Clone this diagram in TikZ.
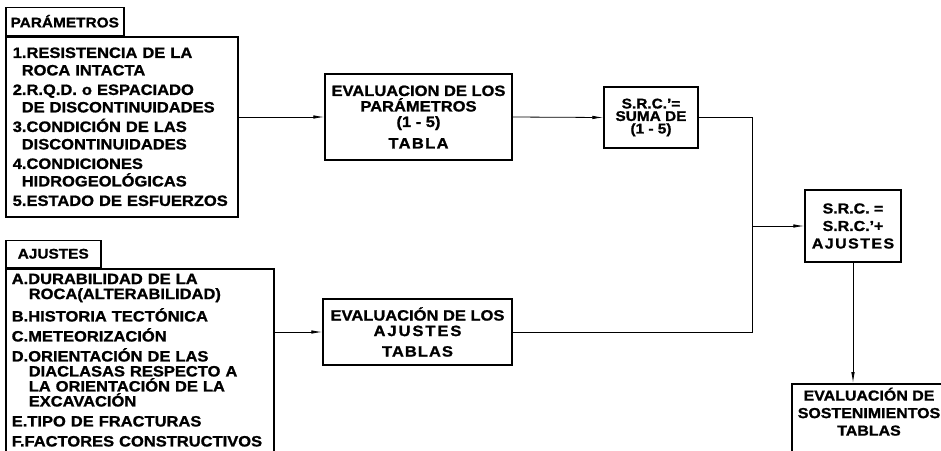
\documentclass[tikz,border=0pt]{standalone}
\usepackage{fontspec}
\setmainfont{Liberation Sans}[FakeStretch=1.1, BoldFeatures={FakeBold=1.2}]
\usetikzlibrary{arrows.meta}

\def\letra{\bfseries\fontsize{15}{15.5}\selectfont}
\newcommand{\sangA}{\hspace*{9pt}}
\newcommand{\sangB}{\hspace*{17pt}}
\newcommand{\espaciado}[2]{{\addfontfeature{LetterSpace=#1}#2}}
\def\fondo{\rule[-14pt]{0pt}{14pt}}

\begin{document}
\begin{tikzpicture}[x=1pt,y=-1pt,
    caja/.style={draw, line width=1.5pt, inner sep=0pt, font=\letra, align=center},
    titulo/.style={caja, anchor=south west, font=\bfseries\fontsize{14}{15}\selectfont},
    flecha/.style={-{Latex[length=11pt,width=3.5pt]}, line width=0.8pt}]
  \useasboundingbox (0,0) rectangle (941,450);

  % parametros
  \node[titulo, minimum width=118pt, minimum height=28pt] (tparam) at (5,36) {PARÁMETROS};
  \node[caja, anchor=north west, align=left, text width=218pt, inner xsep=7pt,
        minimum height=180pt, font=\letra\fontsize{15}{17.5}\selectfont] (param) at (5,36)
    {1.RESISTENCIA DE LA\\\sangA ROCA INTACTA\\[2pt]
     2.R.Q.D. o ESPACIADO\\\sangA DE DISCONTINUIDADES\\[2pt]
     3.CONDICIÓN DE LAS\\\sangA DISCONTINUIDADES\\[2pt]
     4.CONDICIONES\\\sangA HIDROGEOLÓGICAS\\[2pt]
     5.ESTADO DE ESFUERZOS};

  % ajustes
  \node[titulo, minimum width=95pt, minimum height=27pt] (tajus) at (5,268) {AJUSTES};
  \node[caja, anchor=north west, align=left, text width=256pt, inner xsep=6pt, inner ysep=5pt,
        font=\letra\fontsize{15}{15}\selectfont] (ajus) at (5,268)
    {A.DURABILIDAD DE LA\\\sangB ROCA(ALTERABILIDAD)\\[5pt]
     B.HISTORIA TECTÓNICA\\[5pt]
     C.METEORIZACIÓN\\[5pt]
     D.ORIENTACIÓN DE LAS\\\sangB DIACLASAS RESPECTO A\\\sangB LA ORIENTACIÓN DE LA\\\sangB EXCAVACIÓN\\[5pt]
     E.TIPO DE FRACTURAS\\[5pt]
     F.FACTORES CONSTRUCTIVOS\fondo};

  % evaluaciones
  \node[caja, minimum width=187pt, minimum height=86pt] (eval1) at (418.5,117)
    {EVALUACION DE LOS\\PARÁMETROS\\(1 - 5)\\[6pt]\espaciado{9}{TABLA}};
  \node[caja, minimum width=189pt, minimum height=66pt] (eval2) at (417.5,332)
    {EVALUACIÓN DE LOS\\\espaciado{13}{AJUSTES}\\[5pt]\espaciado{7}{TABLAS}};

  % indices
  \node[caja, minimum width=94pt, minimum height=61pt, font=\letra\fontsize{14}{12.5}\selectfont] (srcp) at (651,117.5)
    {S.R.C.'=\\SUMA DE\\(1 - 5)};
  \node[caja, minimum width=96pt, minimum height=72pt, font=\letra\fontsize{14.5}{17.5}\selectfont] (src) at (853,226)
    {S.R.C. =\\S.R.C.'+\\\espaciado{10}{AJUSTES}};
  \node[caja, anchor=north, minimum width=154pt, inner ysep=4pt, font=\letra\fontsize{14.5}{17.5}\selectfont] (sost) at (869,383)
    {EVALUACIÓN DE\\SOSTENIMIENTOS\\TABLAS\fondo};

  % conexiones
  \coordinate (union) at (752,226);
  \draw[flecha] (param.east |- eval1.west) -- (eval1.west);
  \draw[flecha] (ajus.east |- eval2.west) -- (eval2.west);
  \draw[flecha] (eval1.east) -- (srcp.west);
  \draw[line width=0.8pt] (srcp.east) -| (union |- eval2.east) -- (eval2.east);
  \draw[flecha] (union |- src.west) -- (src.west);
  \draw[flecha] (src.south) -- (src.south |- sost.north);
\end{tikzpicture}
\end{document}
